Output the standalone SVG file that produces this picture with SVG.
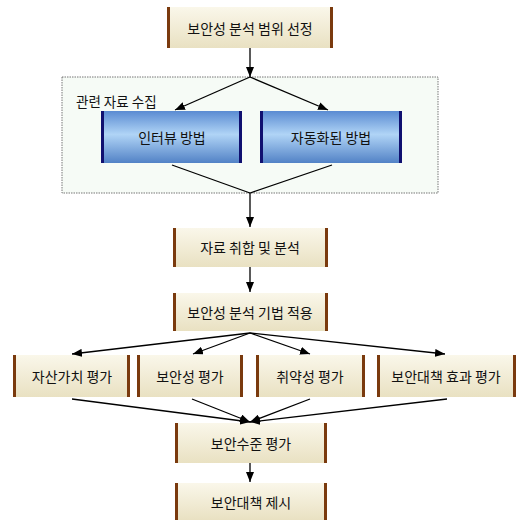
<svg xmlns="http://www.w3.org/2000/svg" width="518" height="522" viewBox="0 0 518 522">
<defs>
<linearGradient id="beige" x1="0" y1="0" x2="0" y2="1">
<stop offset="0" stop-color="#faf7ea"/>
<stop offset="1" stop-color="#e9e1c2"/>
</linearGradient>
<linearGradient id="blue" x1="0" y1="0" x2="0" y2="1">
<stop offset="0" stop-color="#5a8bd2"/>
<stop offset="0.45" stop-color="#b0d4f6"/>
<stop offset="1" stop-color="#5282c6"/>
</linearGradient>
<marker id="ah" markerWidth="10" markerHeight="8" refX="10" refY="4" orient="auto" markerUnits="userSpaceOnUse">
<path d="M0,0 L10,4 L0,8 Z" fill="#000"/>
</marker>
<style>
.bx{fill:url(#beige);}
.bar{fill:#7a3a0e;}
.bl{fill:url(#blue);}
.nbar{fill:#101070;}
.t{font-family:"Noto Sans CJK KR","Noto Sans",sans-serif;font-size:14px;fill:#111;text-anchor:middle;dominant-baseline:central;}
.lbl{font-family:"Noto Sans CJK KR","Noto Sans",sans-serif;font-size:13.5px;fill:#111;}
.c{stroke:#000;stroke-width:1.3;fill:none;}
.ca{stroke:#000;stroke-width:1.3;fill:none;marker-end:url(#ah);}
</style>
</defs>
<rect width="518" height="522" fill="#fff"/>
<g id="group-collect">
<rect x="62" y="77" width="376" height="116" fill="#f6fbf6" stroke="#777" stroke-width="1" stroke-dasharray="1.5,1"/>
<text class="lbl" x="76" y="107">관련 자료 수집</text>
</g>
<g id="n1"><rect class="bx" x="167" y="7" width="166" height="41"/><rect class="bar" x="167" y="7" width="3" height="41"/><rect class="bar" x="330" y="7" width="3" height="41"/><text class="t" x="250" y="28">보안성 분석 범위 선정</text></g>
<g id="n2"><rect class="bl" x="101" y="111" width="141" height="52"/><rect class="nbar" x="101" y="111" width="3" height="52"/><rect class="nbar" x="239" y="111" width="3" height="52"/><text class="t" x="172" y="137">인터뷰 방법</text></g>
<g id="n3"><rect class="bl" x="260" y="111" width="142" height="52"/><rect class="nbar" x="260" y="111" width="3" height="52"/><rect class="nbar" x="399" y="111" width="3" height="52"/><text class="t" x="331" y="137">자동화된 방법</text></g>
<g id="n4"><rect class="bx" x="173" y="228" width="155" height="39"/><rect class="bar" x="173" y="228" width="3" height="39"/><rect class="bar" x="325" y="228" width="3" height="39"/><text class="t" x="250" y="247">자료 취합 및 분석</text></g>
<g id="n5"><rect class="bx" x="173" y="293" width="155" height="38"/><rect class="bar" x="173" y="293" width="3" height="38"/><rect class="bar" x="325" y="293" width="3" height="38"/><text class="t" x="250" y="312">보안성 분석 기법 적용</text></g>
<g id="n6"><rect class="bx" x="13" y="355" width="117" height="42"/><rect class="bar" x="13" y="355" width="3" height="42"/><rect class="bar" x="127" y="355" width="3" height="42"/><text class="t" x="72" y="376">자산가치 평가</text></g>
<g id="n7"><rect class="bx" x="137" y="355" width="106" height="42"/><rect class="bar" x="137" y="355" width="3" height="42"/><rect class="bar" x="240" y="355" width="3" height="42"/><text class="t" x="190" y="376">보안성 평가</text></g>
<g id="n8"><rect class="bx" x="256" y="355" width="109" height="42"/><rect class="bar" x="256" y="355" width="3" height="42"/><rect class="bar" x="362" y="355" width="3" height="42"/><text class="t" x="310" y="376">취약성 평가</text></g>
<g id="n9"><rect class="bx" x="377" y="355" width="139" height="42"/><rect class="bar" x="377" y="355" width="3" height="42"/><rect class="bar" x="513" y="355" width="3" height="42"/><text class="t" x="446" y="376">보안대책 효과 평가</text></g>
<g id="n10"><rect class="bx" x="175" y="423" width="152" height="40"/><rect class="bar" x="175" y="423" width="3" height="40"/><rect class="bar" x="324" y="423" width="3" height="40"/><text class="t" x="251" y="443">보안수준 평가</text></g>
<g id="n11"><rect class="bx" x="175" y="483" width="152" height="37"/><rect class="bar" x="175" y="483" width="3" height="37"/><rect class="bar" x="324" y="483" width="3" height="37"/><text class="t" x="251" y="502">보안대책 제시</text></g>
<g id="connectors">
<line class="ca" x1="250" y1="48" x2="250" y2="77"/>
<line class="ca" x1="250" y1="77" x2="175" y2="110"/>
<line class="ca" x1="250" y1="77" x2="328" y2="110"/>
<line class="c" x1="172" y1="165" x2="250" y2="193"/>
<line class="c" x1="332" y1="165" x2="250" y2="193"/>
<line class="ca" x1="250" y1="193" x2="250" y2="227"/>
<line class="ca" x1="250" y1="267" x2="250" y2="292"/>
<line class="ca" x1="250" y1="333" x2="72" y2="354"/>
<line class="ca" x1="250" y1="333" x2="193" y2="354"/>
<line class="ca" x1="250" y1="333" x2="310" y2="354"/>
<line class="ca" x1="250" y1="333" x2="445" y2="354"/>
<line class="ca" x1="72" y1="399" x2="250" y2="422"/>
<line class="ca" x1="192" y1="399" x2="250" y2="422"/>
<line class="ca" x1="310" y1="399" x2="250" y2="422"/>
<line class="ca" x1="447" y1="399" x2="250" y2="422"/>
<line class="ca" x1="250" y1="463" x2="250" y2="482"/>
</g>
</svg>
